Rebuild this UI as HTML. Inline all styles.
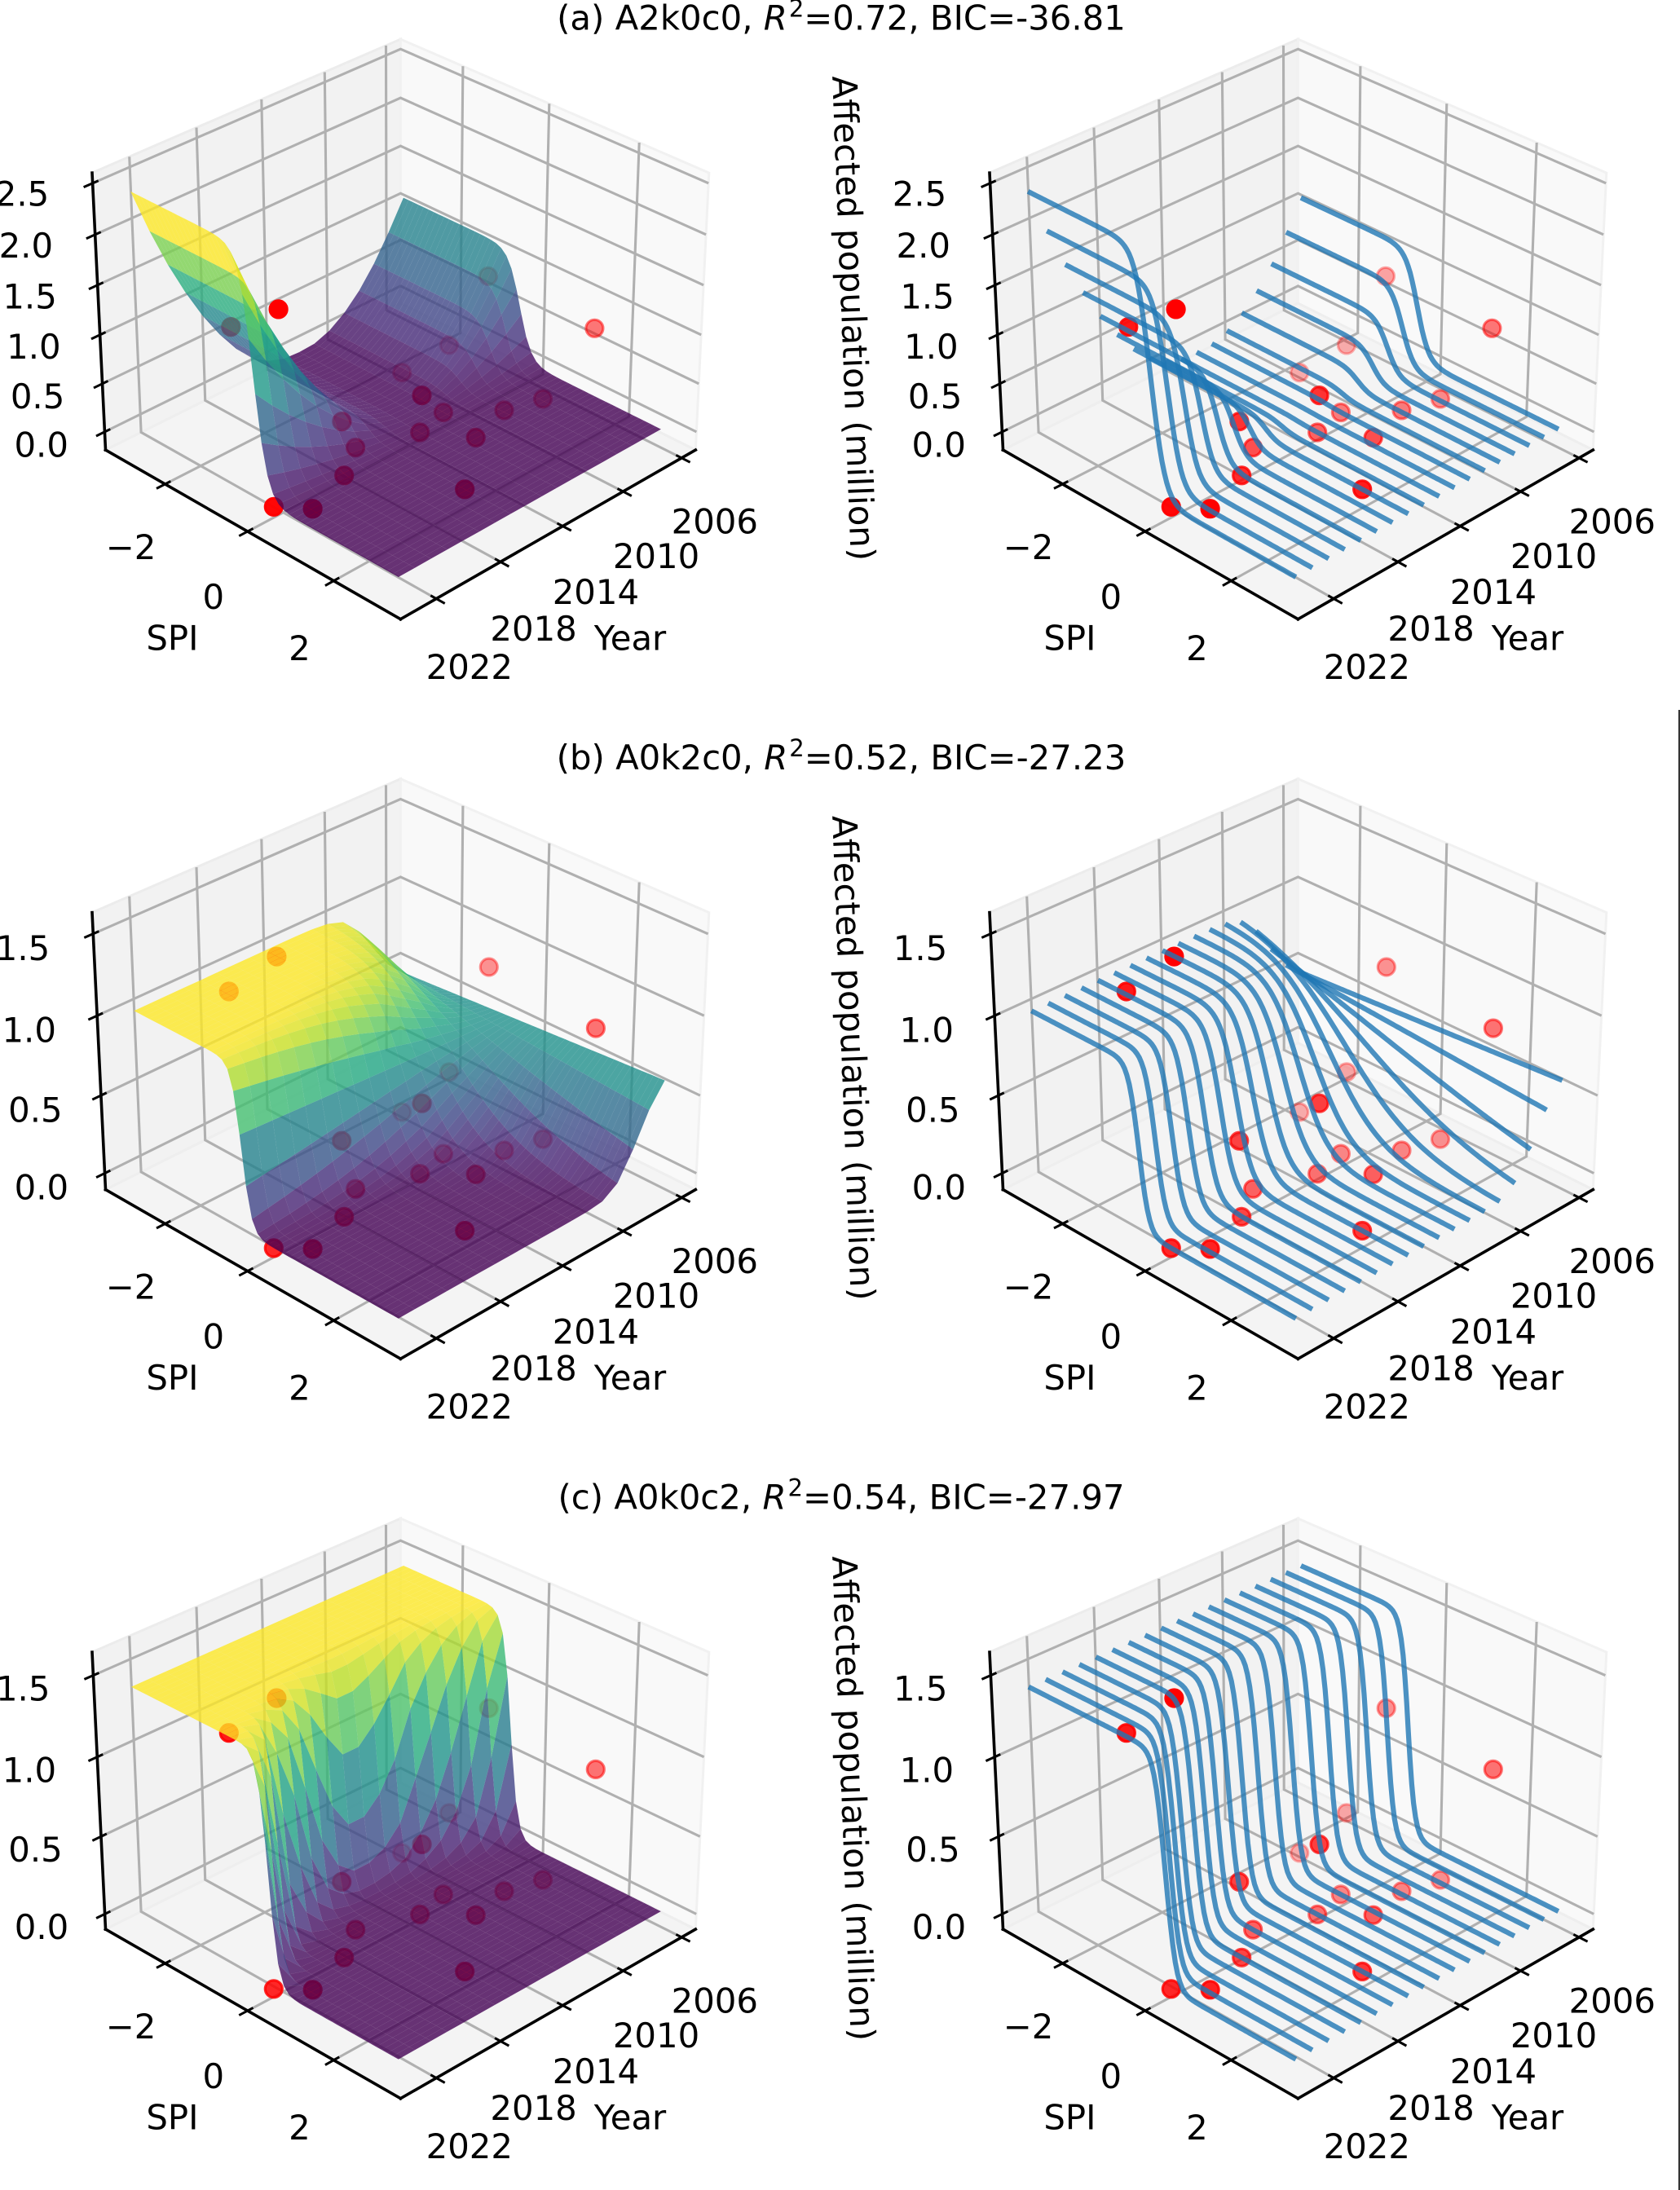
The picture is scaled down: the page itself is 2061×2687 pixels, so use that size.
<!DOCTYPE html>
<html lang="en">
<head>
<meta charset="utf-8">
<title>Affected population surfaces by SPI and year</title>
<style>
html,body{margin:0;padding:0;background:#fff;width:2061px;height:2687px;overflow:hidden}
svg{display:block}
text{font-family:"DejaVu Sans","Liberation Sans",sans-serif;font-size:41.8px;fill:#000}
</style>
</head>
<body>
<svg id="figure" xmlns="http://www.w3.org/2000/svg" width="2061" height="2687" viewBox="0 0 2061 2687">
  <rect x="0" y="0" width="2061" height="2687" fill="#fff"/>
  <line x1="2060" y1="871" x2="2060" y2="2687" stroke="#000" stroke-width="1.6"/>
  <g id="panels"></g>
  <text x="1032" y="36.5" text-anchor="middle">(a) A2k0c0, <tspan font-style="italic">R</tspan><tspan dx="2" dy="-16" font-size="29">2</tspan><tspan dy="16">=0.72, BIC=-36.81</tspan></text>
  <text x="1032" y="944" text-anchor="middle">(b) A0k2c0, <tspan font-style="italic">R</tspan><tspan dx="2" dy="-16" font-size="29">2</tspan><tspan dy="16">=0.52, BIC=-27.23</tspan></text>
  <text x="1032" y="1851.5" text-anchor="middle">(c) A0k0c2, <tspan font-style="italic">R</tspan><tspan dx="2" dy="-16" font-size="29">2</tspan><tspan dy="16">=0.54, BIC=-27.97</tspan></text>
  <text text-anchor="middle" transform="translate(1032.5,391) rotate(87.8)">Affected population (million)</text>
  <text text-anchor="middle" transform="translate(1032.5,1298.5) rotate(87.8)">Affected population (million)</text>
  <text text-anchor="middle" transform="translate(1032.5,2207) rotate(87.8)">Affected population (million)</text>
</svg>
<script>
// ---- observed data points (one per year) ----
const pointYears = [2006,2007,2008,2009,2010,2011,2012,2013,2014,2015,2016,2017,2018,2019,2020,2021,2022,2023];
const pointSpi = [1.47,-0.66,1.00,-0.87,0.79,-1.28,0.07,1.18,0.24,0.64,1.99,-0.18,-0.12,0.30,-0.81,-1.56,0.70,0.17];
const pointAffected = [0.70,0.86,0.02,0.25,0.02,0.03,0,0.08,0,0.56,0,0,0.37,0,1.51,1.25,0.02,0];

// ---- per-year fitted curve parameters ----
const curveYears = [2006,2007,2008,2009,2010,2011,2012,2013,2014,2015,2016,2017,2018,2019,2020,2021,2022,2023];
const plateauA = [1.11,0.82,0.56,0.35,0.19,0.08,0.02,0.01,0.02,0.08,0.19,0.37,0.60,0.87,1.19,1.55,1.96,2.42];
const steepA = [7,7,7,7,7,7,7,7,7,7,7,7,7,7,7,7,7,7];
const midA = [-0.25,-0.25,-0.25,-0.25,-0.25,-0.25,-0.25,-0.25,-0.25,-0.25,-0.25,-0.25,-0.25,-0.25,-0.25,-0.25,-0.25,-0.25];
const plateauB = [1.03,1.03,1.03,1.03,1.03,1.03,1.03,1.03,1.03,1.03,1.03,1.03,1.03,1.03,1.03,1.03,1.03,1.03];
const steepB = [-0.07,0.08,0.33,0.70,1.2,1.7,2.3,3.0,3.6,4.3,5.0,5.7,6.4,7.1,7.8,8.5,9.2,10];
const midB = [-0.55,-0.55,-0.55,-0.55,-0.55,-0.55,-0.55,-0.55,-0.55,-0.55,-0.55,-0.55,-0.55,-0.55,-0.55,-0.55,-0.55,-0.55];
const plateauC = [1.43,1.43,1.43,1.43,1.43,1.43,1.43,1.43,1.43,1.43,1.43,1.43,1.43,1.43,1.43,1.43,1.43,1.43];
const steepC = [10,10,10,10,10,10,10,10,10,10,10,10,10,10,10,10,10,10];
const midC = [-0.49,-0.63,-0.76,-0.85,-0.93,-1.0,-1.08,-1.13,-1.16,-1.16,-1.11,-1.03,-0.92,-0.79,-0.68,-0.46,-0.20,0.09];

// ---- tick labels and axis ranges ----
const yearTicks = [2006,2010,2014,2018,2022];
const spiTicks = [-2,0,2];
const zTicksA = [0,0.5,1,1.5,2,2.5];
const zTicksBC = [0,0.5,1,1.5];
const yearLim = [2005.03,2024.17];
const spiLim = [-3.495,3.495];
const spiRange = [-3.07,3.02];
const zLimA = [-0.19,2.6];
const zLimB = [-0.107,1.628];
const zLimC = [-0.1,1.64];

const viridisStops = ['#440154','#482475','#414487','#355f8d','#2a788e','#21918c','#22a884','#44bf70','#7ad151','#bddf26','#fde725'];

const models = [
  {key:'a', plateau:plateauA, steep:steepA, mid:midA, zLim:zLimA, zTicks:zTicksA},
  {key:'b', plateau:plateauB, steep:steepB, mid:midB, zLim:zLimB, zTicks:zTicksBC},
  {key:'c', plateau:plateauC, steep:steepC, mid:midC, zLim:zLimC, zTicks:zTicksBC}
];

const SVGNS = 'http://www.w3.org/2000/svg';
const BOX_XY = 1.1905, BOX_Z = 0.8928, SCALE = 4395;
const ORIGIN_X = 491.4, ORIGIN_Y = 385.9, COL_STEP = 1101, ROW_STEP = 907.5;
const FACET_STEPS = 49;
const LINE_STEPS = 120;

function node(parent, tag) {
  const el = document.createElementNS(SVGNS, tag);
  parent.appendChild(el);
  return el;
}
function xAxis(year) { return (year - (yearLim[0] + yearLim[1]) / 2) / (yearLim[1] - yearLim[0]) * BOX_XY; }
function yAxis(spi) { return (spi - (spiLim[0] + spiLim[1]) / 2) / (spiLim[1] - spiLim[0]) * BOX_XY; }
function zAxis(z, lim) { return (z - (lim[0] + lim[1]) / 2) / (lim[1] - lim[0]) * BOX_Z; }

function projector(col, row, zLim) {
  const cx = ORIGIN_X + col * COL_STEP, cy = ORIGIN_Y + row * ROW_STEP;
  return function (year, spi, z) {
    const dx = xAxis(year), dy = yAxis(spi), dz = zAxis(z, zLim);
    const xv = 0.70711 * (dy - dx);
    const yv = -0.35355 * (dx + dy) + 0.86603 * dz;
    const d = 10 - 0.61237 * (dx + dy) - 0.5 * dz;
    return {x: cx + SCALE * xv / d, y: cy - SCALE * yv / d, d: d};
  };
}
function pts(list) {
  return list.map(function (p) { return p.x.toFixed(1) + ',' + p.y.toFixed(1); }).join(' ');
}
function logistic(A, k, c, spi) {
  return A / (1 + Math.exp(k * (spi - c)));
}
function viridis(t) {
  const v = Math.max(0, Math.min(1, t)) * (viridisStops.length - 1);
  const i = Math.min(viridisStops.length - 2, Math.floor(v));
  const f = v - i;
  const a = viridisStops[i], b = viridisStops[i + 1];
  const mix = function (o) {
    const p = parseInt(a.substr(o, 2), 16), q = parseInt(b.substr(o, 2), 16);
    return Math.round(p + (q - p) * f);
  };
  return 'rgb(' + mix(1) + ',' + mix(3) + ',' + mix(5) + ')';
}
function spiAt(j, steps) {
  return spiRange[0] + (spiRange[1] - spiRange[0]) * j / steps;
}

function drawFrame(g, project, model, prefix) {
  const xa = yearLim[0], xb = yearLim[1], ya = spiLim[0], yb = spiLim[1], za = model.zLim[0], zb = model.zLim[1];

  const leftWall = node(g, 'polygon');
  
  
  leftWall.setAttribute('points', pts([project(xb, ya, za), project(xa, ya, za), project(xa, ya, zb), project(xb, ya, zb)]));
  leftWall.setAttribute('fill', '#f2f2f2');
  leftWall.setAttribute('stroke', '#ececec');
  leftWall.setAttribute('stroke-width', '3');

  const rightWall = node(g, 'polygon');
  
  
  rightWall.setAttribute('points', pts([project(xa, ya, za), project(xa, yb, za), project(xa, yb, zb), project(xa, ya, zb)]));
  rightWall.setAttribute('fill', '#f9f9f9');
  rightWall.setAttribute('stroke', '#f1f1f1');
  rightWall.setAttribute('stroke-width', '3');

  const floor = node(g, 'polygon');
  
  
  floor.setAttribute('points', pts([project(xb, ya, za), project(xa, ya, za), project(xa, yb, za), project(xb, yb, za)]));
  floor.setAttribute('fill', '#f4f4f4');
  floor.setAttribute('stroke', '#eeeeee');
  floor.setAttribute('stroke-width', '3');

  function grid(list, name) {
    const line = node(g, 'polyline');
    
    
    line.setAttribute('points', pts(list));
    line.setAttribute('fill', 'none');
    line.setAttribute('stroke', '#b0b0b0');
    line.setAttribute('stroke-width', '3.1');
  }
  yearTicks.forEach(function (t) {
    grid([project(t, yb, za), project(t, ya, za), project(t, ya, zb)], prefix + '-gridline-year-' + t);
  });
  spiTicks.forEach(function (t) {
    grid([project(xb, t, za), project(xa, t, za), project(xa, t, zb)], prefix + '-gridline-spi-' + t);
  });
  model.zTicks.forEach(function (t) {
    grid([project(xb, ya, t), project(xa, ya, t), project(xa, yb, t)], prefix + '-gridline-z-' + t);
  });
}

function drawAxes(g, project, model, prefix) {
  const xa = yearLim[0], xb = yearLim[1], ya = spiLim[0], yb = spiLim[1], za = model.zLim[0], zb = model.zLim[1];
  function stroke(p, q, w, name) {
    const l = node(g, 'line');
    
    
    l.setAttribute('x1', p.x.toFixed(1));
    l.setAttribute('y1', p.y.toFixed(1));
    l.setAttribute('x2', q.x.toFixed(1));
    l.setAttribute('y2', q.y.toFixed(1));
    l.setAttribute('stroke', '#000');
    l.setAttribute('stroke-width', w);
    l.setAttribute('stroke-linecap', 'square');
  }
  function label(x, y, str, name) {
    const t = node(g, 'text');
    
    
    t.setAttribute('x', x.toFixed(1));
    t.setAttribute('y', (y + 15.2).toFixed(1));
    t.setAttribute('text-anchor', 'middle');
    t.textContent = str;
  }
  stroke(project(xb, ya, za), project(xb, ya, zb), 3.6, prefix + '-z-axis-line');
  stroke(project(xb, ya, za), project(xb, yb, za), 3.6, prefix + '-spi-axis-line');
  stroke(project(xb, yb, za), project(xa, yb, za), 3.6, prefix + '-year-axis-line');

  yearTicks.forEach(function (t) {
    const base = project(t, yb, za);
    const drop = 77.5 + (t - 2006) / 16 * 5.5;
    stroke(project(t, yb + 0.164, za), project(t, yb - 0.1, za), 3, prefix + '-year-tick-' + t);
    label(base.x + 40.6, base.y + drop, String(t), prefix + '-year-tick-label-' + t);
  });
  spiTicks.forEach(function (t) {
    const base = project(xb, t, za);
    const drop = 79.5 + t * 1.3;
    stroke(project(xb + 0.45, t, za), project(xb - 0.27, t, za), 3, prefix + '-spi-tick-' + t);
    label(base.x - 42, base.y + drop, String(t).replace('-', '\u2212'), prefix + '-spi-tick-label-' + t);
  });
  model.zTicks.forEach(function (t) {
    const base = project(xb, ya, t);
    const frac = (t - za) / (zb - za);
    const lift = model.key === 'a' ? 3 + 3 * frac : (model.key === 'b' ? 1.5 : 3);
    stroke(project(xb + 0.45, ya, t), project(xb - 0.27, ya, t), 3, prefix + '-z-tick-' + t);
    label(base.x - 77 - 10 * frac, base.y + 18.5 - lift, t.toFixed(1), prefix + '-z-tick-label-' + t);
  });
  const corner = project(xb, yb, za);
  label(corner.x - 280, corner.y + 22.8, 'SPI', prefix + '-spi-axis-title');
  label(corner.x + 281.6, corner.y + 22.4, 'Year', prefix + '-year-axis-title');
}

function drawPoints(g, project, prefix) {
  const prj = pointYears.map(function (y, i) { return project(y, pointSpi[i], pointAffected[i]); });
  const ds = prj.map(function (p) { return p.d; });
  const dMin = Math.min.apply(null, ds), dMax = Math.max.apply(null, ds);
  const order = prj.map(function (p, i) { return i; }).sort(function (a, b) { return prj[b].d - prj[a].d; });
  order.forEach(function (i) {
    const alpha = 1 - 0.7 * (prj[i].d - dMin) / (dMax - dMin);
    const c = node(g, 'circle');
    
    
    c.setAttribute('cx', prj[i].x.toFixed(1));
    c.setAttribute('cy', prj[i].y.toFixed(1));
    c.setAttribute('r', '10.5');
    c.setAttribute('fill', '#ff0000');
    c.setAttribute('fill-opacity', alpha.toFixed(3));
    c.setAttribute('stroke', '#ff0000');
    c.setAttribute('stroke-opacity', alpha.toFixed(3));
    c.setAttribute('stroke-width', '3.2');
  });
}

function drawSurface(g, project, model, prefix) {
  const rows = curveYears.map(function (y, i) {
    const row = [];
    for (let j = 0; j <= FACET_STEPS; j++) {
      row.push(logistic(model.plateau[i], model.steep[i], model.mid[i], spiAt(j, FACET_STEPS)));
    }
    return row;
  });
  const facets = [];
  let vMin = Infinity, vMax = -Infinity;
  for (let i = 0; i < curveYears.length - 1; i++) {
    for (let j = 0; j < FACET_STEPS; j++) {
      const s0 = spiAt(j, FACET_STEPS), s1 = spiAt(j + 1, FACET_STEPS);
      const a = project(curveYears[i], s0, rows[i][j]);
      const b = project(curveYears[i], s1, rows[i][j + 1]);
      const c = project(curveYears[i + 1], s1, rows[i + 1][j + 1]);
      const d = project(curveYears[i + 1], s0, rows[i + 1][j]);
      const avg = (rows[i][j] + rows[i][j + 1] + rows[i + 1][j + 1] + rows[i + 1][j]) / 4;
      vMin = Math.min(vMin, avg);
      vMax = Math.max(vMax, avg);
      facets.push({p: [a, b, c, d], avg: avg, depth: (a.d + b.d + c.d + d.d) / 4, year: curveYears[i]});
    }
  }
  facets.sort(function (u, v) { return v.depth - u.depth; });
  facets.forEach(function (f) {
    const poly = node(g, 'polygon');
    
    
    poly.setAttribute('points', pts(f.p));
    poly.setAttribute('fill', viridis((f.avg - vMin) / (vMax - vMin)));
    poly.setAttribute('fill-opacity', '0.8');
  });
}

function drawLines(g, project, model, prefix) {
  curveYears.forEach(function (y, i) {
    const list = [];
    for (let j = 0; j <= LINE_STEPS; j++) {
      const s = spiAt(j, LINE_STEPS);
      list.push(project(y, s, logistic(model.plateau[i], model.steep[i], model.mid[i], s)));
    }
    const line = node(g, 'polyline');
    
    
    line.setAttribute('points', pts(list));
    line.setAttribute('fill', 'none');
    line.setAttribute('stroke', '#1f77b4');
    line.setAttribute('stroke-opacity', '0.8');
    line.setAttribute('stroke-width', '6.2');
    line.setAttribute('stroke-linejoin', 'round');
  });
}

const root = document.getElementById('panels');
models.forEach(function (model, row) {
  [0, 1].forEach(function (col) {
    const prefix = 'panel-' + model.key + (col === 0 ? '-surface' : '-curves');
    const project = projector(col, row, model.zLim);
    const g = node(root, 'g');
    
    
    drawFrame(g, project, model, prefix);
    drawAxes(g, project, model, prefix);
    drawPoints(g, project, prefix);
    if (col === 0) {
      drawSurface(g, project, model, prefix);
    } else {
      drawLines(g, project, model, prefix);
    }
  });
});
</script>
</body>
</html>
